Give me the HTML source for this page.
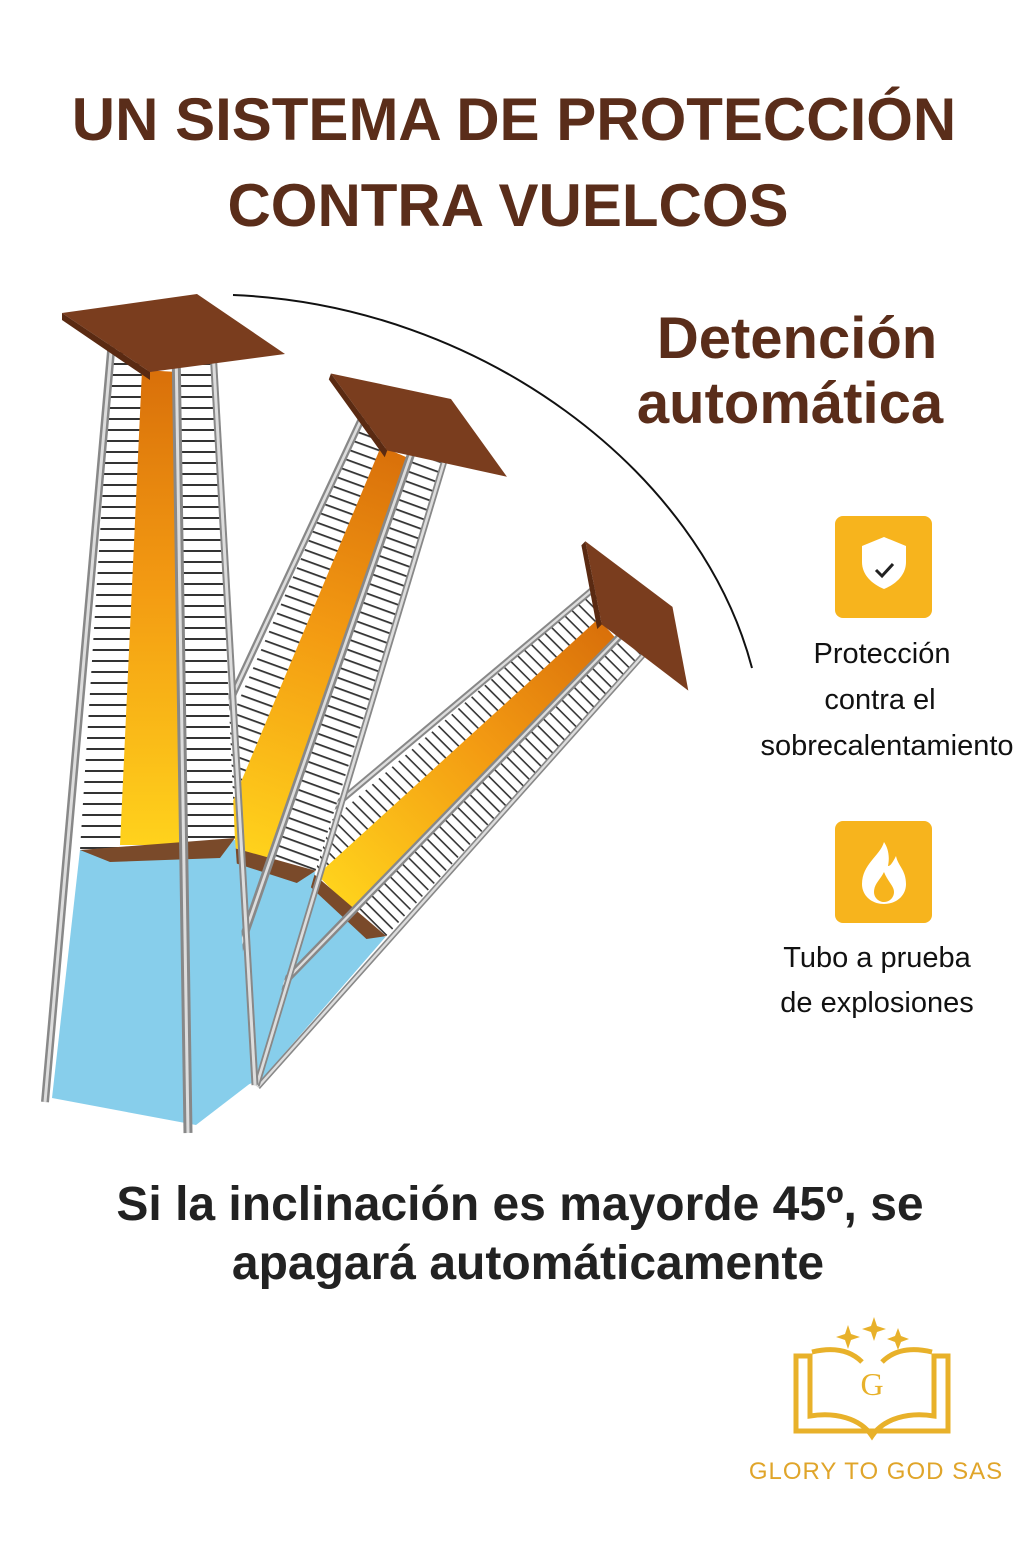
<!DOCTYPE html>
<html><head><meta charset="utf-8"><style>
html,body{margin:0;padding:0;background:#fff;}
body{width:1024px;height:1536px;position:relative;overflow:hidden;font-family:"Liberation Sans",sans-serif;}
</style></head><body>
<svg width="1024" height="1536" viewBox="0 0 1024 1536" xmlns="http://www.w3.org/2000/svg">
<defs>
<pattern id="grid" width="10" height="11" patternUnits="userSpaceOnUse">
<rect width="10" height="11" fill="#fff"/><rect y="0" width="10" height="2" fill="#333"/>
</pattern>
<linearGradient id="flame" x1="0" y1="0" x2="0" y2="1">
<stop offset="0" stop-color="#d9700a"/><stop offset="0.45" stop-color="#f39a12"/><stop offset="1" stop-color="#ffd21c"/>
</linearGradient>
<g id="heater">
<polygon points="80,850 235,838 252,1082 196,1125 52,1098" fill="#87ceeb"/>
<polygon points="112,345 213,352 235,840 80,850" fill="url(#grid)"/>
<polygon points="142,370 178,372 182,845 120,845" fill="url(#flame)"/>
<polygon points="80,850 235,838 220,858 110,862" fill="#7a4a2a"/>
<line x1="112" y1="340" x2="45" y2="1102" stroke="#888" stroke-width="8"/>
<line x1="112" y1="340" x2="45" y2="1102" stroke="#ddd" stroke-width="3"/>
<line x1="176" y1="345" x2="188" y2="1133" stroke="#888" stroke-width="9"/>
<line x1="176" y1="345" x2="188" y2="1133" stroke="#ddd" stroke-width="3"/>
<line x1="213" y1="350" x2="255" y2="1085" stroke="#888" stroke-width="7"/>
<line x1="213" y1="350" x2="255" y2="1085" stroke="#ddd" stroke-width="3"/>
<polygon points="62,313 197,294 285,354 150,372" fill="#7a3d1e"/>
<polygon points="62,313 150,372 150,380 62,320" fill="#5a2a12"/>
</g>
</defs>
<path d="M233,295 C480,305 700,470 752,668" fill="none" stroke="#111" stroke-width="2"/>
<g transform="translate(255,1090) rotate(45) scale(0.8) translate(-255,-1090)"><use href="#heater"/></g>
<g transform="translate(255,1090) rotate(20) scale(0.9) translate(-255,-1090)"><use href="#heater"/></g>
<use href="#heater"/>

<g font-family="Liberation Sans, sans-serif" font-weight="bold" fill="#5a2d1a" text-anchor="middle">
<text x="514" y="140" font-size="60">UN SISTEMA DE PROTECCIÓN</text>
<text x="508" y="226" font-size="60">CONTRA VUELCOS</text>
<text x="797" y="358" font-size="58">Detención</text>
<text x="790" y="423" font-size="58">automática</text>
</g>
<rect x="835" y="516" width="97" height="102" rx="8" fill="#f7b41d"/>
<path d="M884,537 l22,9 v16 c0,13 -10,22 -22,27 c-12,-5 -22,-14 -22,-27 v-16z" fill="#fff"/>
<path d="M876,570 l6,6 l11,-12" fill="none" stroke="#222" stroke-width="3"/>
<rect x="835" y="821" width="97" height="102" rx="8" fill="#f7b41d"/>
<path d="M884,842 c-4,14 -22,22 -22,42 c0,12 10,20 22,20 c12,0 22,-8 22,-20 c0,-14 -8,-18 -10,-28 c-4,8 -6,10 -8,10 c2,-10 0,-18 -4,-24z" fill="#fff"/>
<path d="M884,872 c-4,8 -10,12 -10,20 c0,6 5,10 10,10 c5,0 10,-4 10,-10 c0,-6 -6,-10 -10,-20z" fill="#f7b41d"/>
<g font-family="Liberation Sans, sans-serif" fill="#111" text-anchor="middle" font-size="29">
<text x="882" y="663">Protección</text>
<text x="880" y="709">contra el</text>
<text x="887" y="755">sobrecalentamiento</text>
<text x="877" y="967">Tubo a prueba</text>
<text x="877" y="1012">de explosiones</text>
</g>
<g font-family="Liberation Sans, sans-serif" font-weight="bold" fill="#222" text-anchor="middle" font-size="48">
<text x="520" y="1220">Si la inclinación es mayorde 45º, se</text>
<text x="528" y="1279">apagará automáticamente</text>
</g>
<g fill="#e8b12a" stroke="none">
<path d="M848,1325 l3,9 l9,3 l-9,3 l-3,9 l-3,-9 l-9,-3 l9,-3z"/>
<path d="M874,1317 l3,9 l9,3 l-9,3 l-3,9 l-3,-9 l-9,-3 l9,-3z"/>
<path d="M898,1328 l3,8 l8,3 l-8,3 l-3,8 l-3,-8 l-8,-3 l8,-3z"/>
</g>
<g fill="none" stroke="#e8b12a" stroke-width="5">
<path d="M796,1356 h14 v60 c25,-4 50,2 62,20 c12,-18 37,-24 62,-20 v-60 h14 v75 h-76 h-76z"/>
<path d="M812,1352 c25,-6 40,0 50,10 M932,1352 c-25,-6 -40,0 -50,10"/>
</g>
<text x="872" y="1395" text-anchor="middle" font-family="Liberation Serif, serif" font-size="32" fill="#e8b12a">G</text>
<text x="876" y="1479" text-anchor="middle" font-family="Liberation Sans, sans-serif" font-size="24" letter-spacing="1" fill="#e0a52a">GLORY  TO GOD SAS</text>
</svg>
</body></html>
